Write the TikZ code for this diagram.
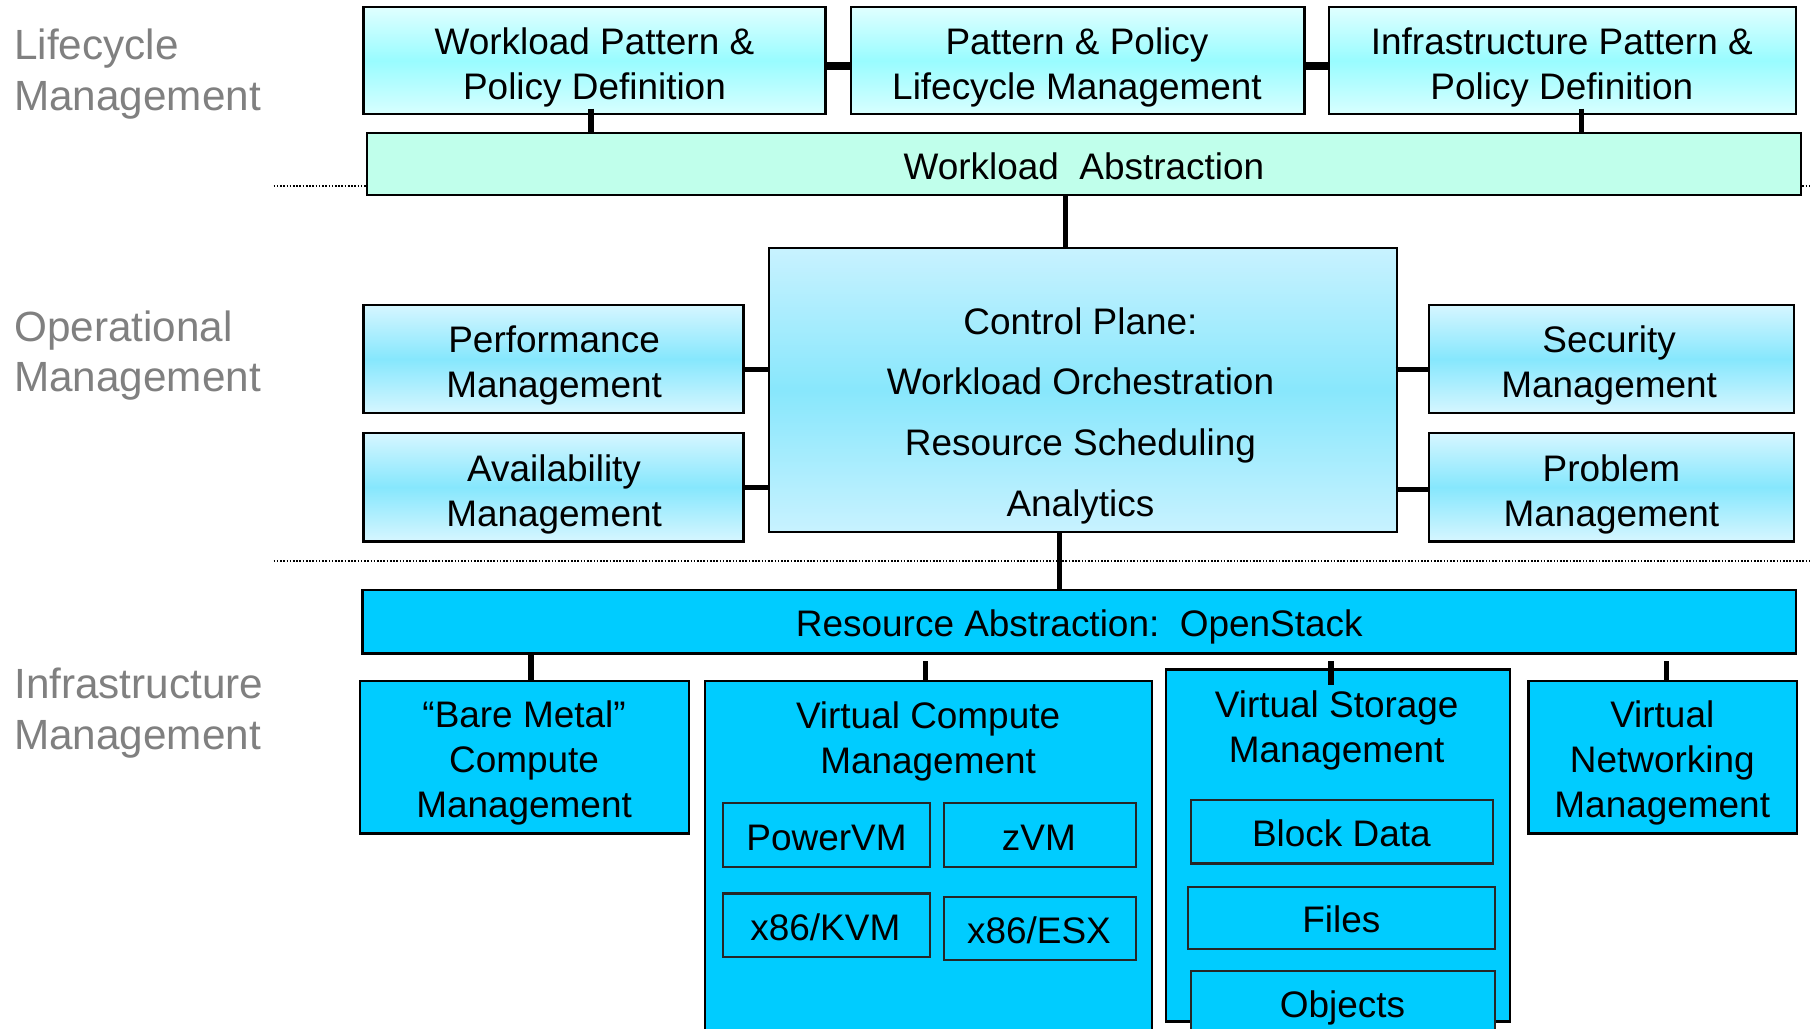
\documentclass[tikz,border=0pt]{standalone}
\usepackage{fontspec}
\setmainfont{Liberation Sans}
\usetikzlibrary{fit,calc}
\definecolor{lcTop}{HTML}{E0FFFF}
\definecolor{lcMid}{HTML}{99FCFF}
\definecolor{lcBot}{HTML}{D8FFFF}
\definecolor{opTop}{HTML}{D6F6FF}
\definecolor{opMid}{HTML}{86E7FD}
\definecolor{cpTop}{HTML}{C8F2FF}
\definecolor{cpMid}{HTML}{88E7FC}
\definecolor{waFill}{HTML}{C0FFEB}
\definecolor{raFill}{HTML}{00CCFF}
\definecolor{layerGray}{HTML}{808080}
\begin{document}
\begin{tikzpicture}[x=0.5pt,y=-0.5pt,
  every node/.style={font=\fontsize{16}{19.5}\selectfont, align=center, inner sep=0pt},
  boxbase/.style={draw=black, line width=1pt},
  lcbox/.style={boxbase, top color=lcTop, bottom color=lcBot, middle color=lcMid},
  opbox/.style={boxbase, top color=opTop, bottom color=opTop, middle color=opMid},
  cpbox/.style={boxbase, top color=cpTop, bottom color=cpTop, middle color=cpMid},
  wabox/.style={boxbase, fill=waFill},
  rabox/.style={boxbase, fill=raFill},
  subbox/.style={draw=black!85, line width=0.9pt, fill=raFill},
  one/.style={text height=11.5pt, text depth=0pt},
  conn/.style={line width=2.2pt, draw=black},
  hconn/.style={line width=3.4pt, draw=black},
  sepline/.style={line width=0.8pt, dash pattern=on 0.7pt off 0.7pt},
  layer/.style={text=layerGray, font=\fontsize{18.3}{22}\selectfont, align=left, anchor=west}
]
\useasboundingbox (0,0) rectangle (1568,891);
\clip (0,0) rectangle (1568,891);
\fill[white] (0,0) rectangle (1568,891);

% separators
\coordinate (s1a) at (237,161); \coordinate (s1b) at (1568,161);
\coordinate (s2a) at (237,486); \coordinate (s2b) at (1568,486);
\draw[sepline] (s1a) -- (s1b);
\draw[sepline] (s2a) -- (s2b);

% layer labels
\node[layer] (l1) at (12,64) {Lifecycle\\Management};
\node[layer] (l2) at (12,308) {Operational\\Management};
\node[layer] (l3) at (12,618) {Infrastructure\\Management};

% lifecycle
\node[lcbox, fit={(315,6) (715,99)}] (b1) {};
\node (b1t) at (515,58.5) {Workload Pattern \&\\Policy Definition};
\node[lcbox, fit={(737,6) (1130,99)}] (b2) {};
\node (b2t) at (933,58.5) {Pattern \& Policy\\Lifecycle Management};
\node[lcbox, fit={(1151,6) (1556,99)}] (b3) {};
\node (b3t) at (1353,58.5) {Infrastructure Pattern \&\\Policy Definition};
\node[wabox, fit={(318,115) (1560,169)}] (wa) {};
\node[one] (wat) at (939,144) {Workload\ \ Abstraction};

% operational
\node[cpbox, fit={(666,215) (1210,461)}] (cp) {};
\node[font=\fontsize{16}{26.3}\selectfont] (cpt) at (936,360) {Control Plane:\\Workload Orchestration\\Resource Scheduling\\Analytics};
\node[opbox, fit={(315,264) (644,358)}] (pm) {};
\node (pmt) at (480,317) {Performance\\Management};
\node[opbox, fit={(315,375) (644,469)}] (am) {};
\node (amt) at (480,428) {Availability\\Management};
\node[opbox, fit={(1238,264) (1554,358)}] (sm) {};
\node (smt) at (1394,317) {Security\\Management};
\node[opbox, fit={(1238,375) (1554,469)}] (prm) {};
\node (prmt) at (1396,428) {Problem\\Management};

% infrastructure
\node[rabox, fit={(314,511) (1556,566)}] (ra) {};
\node[one] (rat) at (935,540) {Resource Abstraction:\ \ OpenStack};
\node[rabox, fit={(312,590) (597,722)}] (bm) {};
\node (bmt) at (454,661) {“Bare Metal”\\Compute\\Management};
\node[rabox, fit={(611,590) (998,900)}] (vc) {};
\node (vct) at (804,642) {Virtual Compute\\Management};
\node[subbox, fit={(626,696) (806,751)}] (pv) {};
\node[one] (pvt) at (716,725) {PowerVM};
\node[subbox, fit={(818,696) (984,751)}] (zv) {};
\node[one] (zvt) at (900,725) {zVM};
\node[subbox, fit={(626,774) (806,829)}] (kvm) {};
\node[one] (kvmt) at (715,803) {x86/KVM};
\node[subbox, fit={(818,777) (984,832)}] (esx) {};
\node[one] (esxt) at (900,806) {x86/ESX};
\node[rabox, fit={(1010,580) (1308,885)}] (vs) {};
\node (vst) at (1158,633) {Virtual Storage\\Management};
\node[subbox, fit={(1032,693) (1293,748)}] (bd) {};
\node[one] (bdt) at (1162,722) {Block Data};
\node[subbox, fit={(1029,768) (1295,822)}] (fl) {};
\node[one] (flt) at (1162,796) {Files};
\node[subbox, fit={(1032,841) (1295,899)}] (ob) {};
\node[one] (obt) at (1163,870) {Objects};
\node[rabox, fit={(1324,590) (1557,722)}] (vn) {};
\node (vnt) at (1440,661) {Virtual\\Networking\\Management};

% connectors
\draw[hconn] ($(b1.east)+(0,4.5)$) -- ($(b2.west)+(0,4.5)$);
\draw[hconn] ($(b2.east)+(0,4.5)$) -- ($(b3.west)+(0,4.5)$);
\draw[conn] ($(b1.south)+(-3,-6)$) -- ($(b1.south)+(-3,16)$);
\draw[conn] ($(b3.south)+(16.5,-6)$) -- ($(b3.south)+(16.5,16)$);
\draw[conn] ($(wa.south)+(-16,0)$) -- ($(cp.north)+(-15,0)$);
\draw[conn] ($(pm.east)+(0,9)$) -- ($(pm.east)+(22,9)$);
\draw[conn] (am.east) -- ($(am.east)+(22,0)$);
\draw[conn] ($(sm.west)+(-28,9)$) -- ($(sm.west)+(0,9)$);
\draw[conn] ($(prm.west)+(-26,2)$) -- ($(prm.west)+(2,2)$);
\draw[conn] ($(cp.south)+(-20,0)$) -- ($(ra.north)+(-17,0)$);
\draw[conn] ($(ra.south)+(-475,0)$) -- ($(bm.north)+(5.5,0)$);
\draw[conn] ($(ra.south)+(-133,6)$) -- ($(vc.north)+(-2.5,2)$);
\draw[conn] ($(ra.south)+(218,6)$) -- ($(ra.south)+(218,26)$);
\draw[conn] ($(ra.south)+(509,6)$) -- ($(vn.north)+(3.5,2)$);
\end{tikzpicture}
\end{document}
